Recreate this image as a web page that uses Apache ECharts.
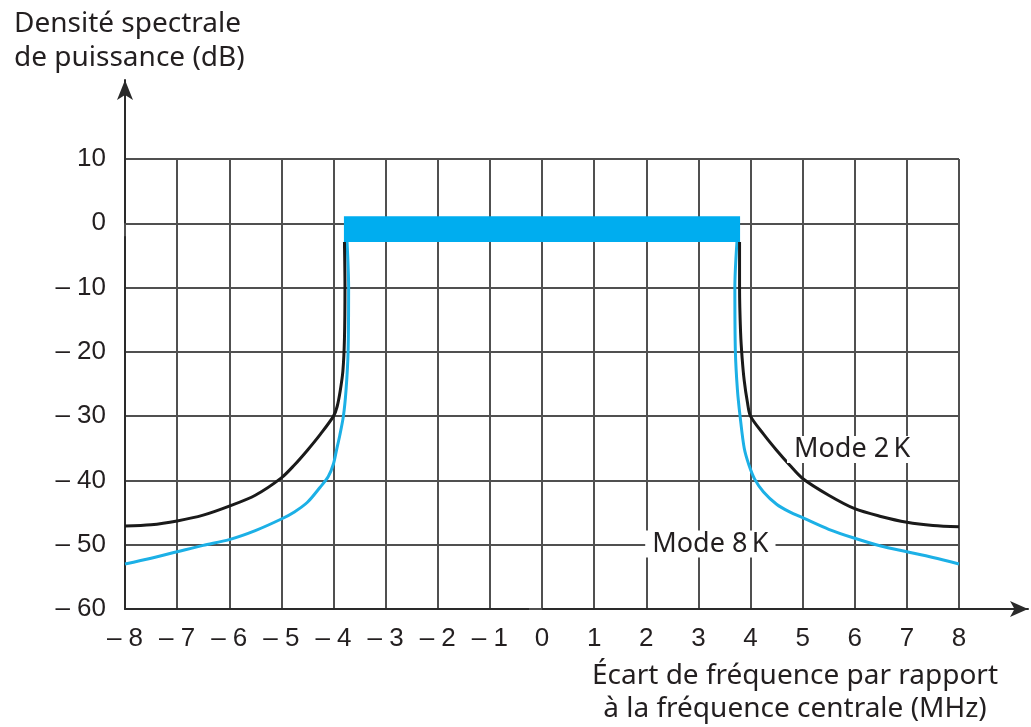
<!DOCTYPE html>
<html>
<head>
<meta charset="utf-8">
<script src="https://cdn.jsdelivr.net/npm/echarts@6/dist/echarts.min.js"></script>
<style>
  html, body { margin: 0; padding: 0; background: #fff; }
  #chart { width: 1031px; height: 727px; }
</style>
</head>
<body>
<div id="chart"></div>
<script>
// axes
const xTicks = [-8, -7, -6, -5, -4, -3, -2, -1, 0, 1, 2, 3, 4, 5, 6, 7, 8];
const yTicks = [-60, -50, -40, -30, -20, -10, 0, 10];

// flat top of the spectrum (blue band)
const bandX = [-3.8, 3.8];
const bandY = [1.1, -2.9];

// Mode 2K (black)
const mode2kLeft = [
    [-3.79, -2.9], [-3.78, -10], [-3.79, -18], [-3.82, -23], [-3.87, -26], [-3.93, -28.5], [-4.0, -30],
    [-4.25, -32.8], [-4.5, -35.3], [-4.75, -37.6], [-5.0, -39.6], [-5.5, -42.3], [-6.0, -44.0],
    [-6.5, -45.4], [-7.0, -46.3], [-7.5, -46.9], [-8.0, -47.1]
];
const mode2kRight = [
    [3.79, -2.9], [3.79, -10], [3.81, -17], [3.84, -21], [3.88, -24.5], [3.94, -27.8], [4.0, -30],
    [4.25, -32.8], [4.5, -35.3], [4.75, -37.6], [5.0, -39.7], [5.5, -42.3], [6.0, -44.4],
    [6.5, -45.6], [7.0, -46.5], [7.5, -47.0], [8.0, -47.2]
];

// Mode 8K (blue)
const mode8kLeft = [
    [-3.74, -2.9], [-3.71, -10], [-3.72, -20], [-3.76, -26], [-3.81, -30], [-3.88, -33], [-3.94, -35.2],
    [-4.0, -37.4], [-4.1, -39.4], [-4.26, -41.1], [-4.5, -43.4], [-4.75, -44.9], [-5.0, -46.0],
    [-5.5, -47.8], [-6.0, -49.2], [-6.5, -50.1], [-7.0, -51.1], [-7.5, -52.1], [-8.0, -53.0]
];
const mode8kRight = [
    [3.74, -2.9], [3.70, -10], [3.71, -20], [3.75, -26], [3.80, -30], [3.88, -35], [3.97, -37.6],
    [4.08, -39.8], [4.25, -41.8], [4.5, -43.7], [4.75, -44.9], [5.0, -45.8], [5.5, -47.6],
    [6.0, -49.0], [6.5, -50.2], [7.0, -51.1], [7.5, -52.0], [8.0, -53.0]
];

// curve labels
const labelTexts = ['Mode 2\u2009K', 'Mode 8\u2009K'];
const labelCoords = [[5.95, -35.2], [3.23, -49.9]];

const FONT = 'Liberation Sans';
const TFONT = 'Noto Sans';
const TXT = '#231f20';
const GRIDC = '#505050';

const chart = echarts.init(document.getElementById('chart'));

function fmt(v) {
    return v < 0 ? '\u2013 ' + (-v) : String(v);
}

const option = {
    animation: false,
    grid: [
        { left: 125, right: 72, top: 159, bottom: 118 },
        // only used for the arrowed axis lines
        { left: 125, right: 3, top: 80, bottom: 118 }
    ],
    xAxis: [
        {
            type: 'value', gridIndex: 0,
            min: xTicks[0], max: xTicks[xTicks.length - 1], interval: 1,
            axisLine: { show: false },
            axisTick: { show: true, length: 13, lineStyle: { color: GRIDC, width: 2 } },
            splitLine: { show: true, lineStyle: { color: GRIDC, width: 2 } },
            axisLabel: { margin: 17, fontFamily: FONT, fontSize: 26, color: TXT, formatter: fmt }
        },
        {
            type: 'value', gridIndex: 1, min: 0, max: 1,
            axisLine: { show: true, symbol: ['none', 'arrow'], symbolSize: [12, 18], lineStyle: { color: '#2a2a2a', width: 2 } },
            axisTick: { show: false }, axisLabel: { show: false }, splitLine: { show: false }
        }
    ],
    yAxis: [
        {
            type: 'value', gridIndex: 0,
            min: yTicks[0], max: yTicks[yTicks.length - 1], interval: 10,
            axisLine: { show: false },
            axisTick: { show: true, length: 13, lineStyle: { color: GRIDC, width: 2 } },
            splitLine: { show: true, lineStyle: { color: GRIDC, width: 2 } },
            axisLabel: { margin: 19, fontFamily: FONT, fontSize: 26, color: TXT, formatter: fmt }
        },
        {
            type: 'value', gridIndex: 1, min: 0, max: 1,
            axisLine: { show: true, symbol: ['none', 'arrow'], symbolSize: [12, 20], lineStyle: { color: '#2a2a2a', width: 2 } },
            axisTick: { show: false }, axisLabel: { show: false }, splitLine: { show: false }
        }
    ],
    graphic: [
        {
            type: 'text', left: 14, top: 7,
            style: {
                text: 'Densité spectrale\nde puissance (dB)',
                font: '28px "' + TFONT + '"', fill: TXT, lineHeight: 34
            }
        },
        {
            type: 'text', x: 795, y: 660,
            style: {
                text: 'Écart de fréquence par rapport\nà la fréquence centrale (MHz)',
                font: '28px "' + TFONT + '"', fill: TXT, lineHeight: 33,
                align: 'center', verticalAlign: 'top'
            }
        }
    ],
    series: [
        {
            name: 'labels', type: 'line', z: 1, data: [],
            markPoint: {
                silent: true, symbol: 'circle', symbolSize: 0,
                label: {
                    show: true, position: 'inside', fontFamily: TFONT, fontSize: 27, color: TXT,
                    backgroundColor: '#fff', padding: [0, 7],
                    formatter: p => p.name
                },
                data: labelTexts.map((t, i) => ({ name: t, coord: labelCoords[i] }))
            }
        },
        { name: 'Mode 8K', type: 'line', z: 3, data: mode8kLeft, symbol: 'none', smooth: 0.3, lineStyle: { color: '#1cb0e6', width: 3 } },
        { name: 'Mode 8K', type: 'line', z: 3, data: mode8kRight, symbol: 'none', smooth: 0.3, lineStyle: { color: '#1cb0e6', width: 3 } },
        { name: 'Mode 2K', type: 'line', z: 4, data: mode2kLeft, symbol: 'none', smooth: 0.3, lineStyle: { color: '#1a1a1a', width: 3 } },
        { name: 'Mode 2K', type: 'line', z: 4, data: mode2kRight, symbol: 'none', smooth: 0.3, lineStyle: { color: '#1a1a1a', width: 3 } },
        {
            name: 'band', type: 'line', z: 5, data: [], symbol: 'none',
            markArea: {
                silent: true,
                itemStyle: { color: '#00adef', opacity: 1 },
                data: [[{ coord: [bandX[0], bandY[0]] }, { coord: [bandX[1], bandY[1]] }]]
            }
        }
    ]
};

chart.setOption(option);
</script>
</body>
</html>
